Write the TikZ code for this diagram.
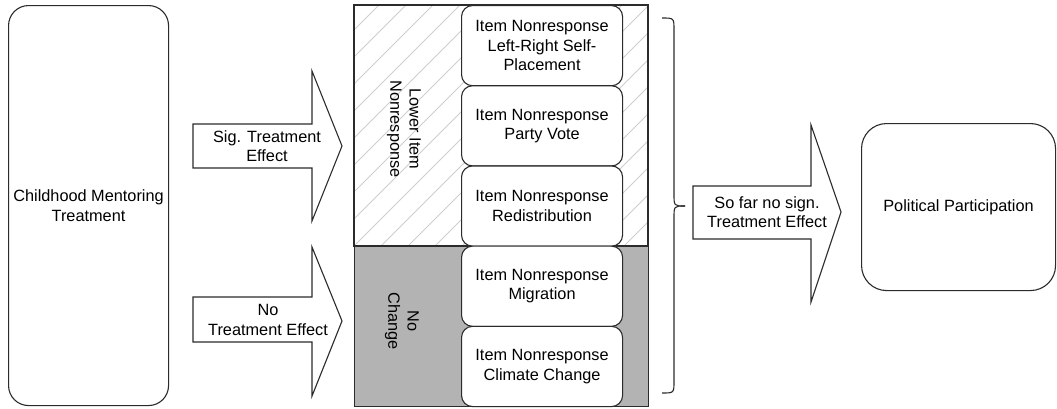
\documentclass[tikz,border=0pt]{standalone}
\usepackage{fontspec}
\setmainfont{Liberation Sans}
\definecolor{linec}{HTML}{2B2B2B}
\definecolor{hatchc}{HTML}{CFCFCF}
\definecolor{grayfill}{HTML}{B3B3B3}
\newcommand\dgfont{\fontsize{16.3}{19.3}\selectfont}
\begin{document}
\begin{tikzpicture}[x=1pt,y=-1pt,line width=1.1pt,
  box/.style={draw=linec, fill=white, rounded corners=20pt, inner sep=0pt, align=center, font=\dgfont, anchor=north west},
  itembox/.style={draw=linec, fill=white, rounded corners=11pt, inner sep=0pt, align=center, font=\dgfont,
    minimum width=161pt, minimum height=80.2pt, anchor=north west},
  region/.style={draw=linec, inner sep=0pt, anchor=north west, minimum width=294pt},
  blockarrow/.style={draw=linec, fill=white, line join=miter},
  txt/.style={align=center, font=\dgfont, inner sep=0pt},
  hatch/.style={draw=hatchc, line width=0.8pt}]
\useasboundingbox (0,0) rectangle (1057,408);

% left box
\node[box, minimum width=160pt, minimum height=400pt] (cmt) at (8,5) {Childhood Mentoring\\Treatment};

% block arrow 1
\draw[blockarrow] (193,124) -- (312,124) -- (312,71) -- (342,146) -- (312,221) -- (312,168) -- (193,168) -- cycle;
\node[txt] (sig) at (267,146) {Sig. Treatment\\Effect};

% block arrow 2
\draw[blockarrow] (193,297) -- (312,297) -- (312,247) -- (342,321) -- (312,396) -- (312,342) -- (193,342) -- cycle;
\node[txt] (noeff) at (268,320) {No\\Treatment Effect};

% middle panel
\node[region, fill=white, minimum height=241pt] (upper) at (354,5) {};
\begin{scope}
  \clip (354,5) rectangle (648,246);
  \foreach \i in {-10,...,12} {
    \draw[hatch] ({354+\i*27},246) -- ++(241,-241);
  }
\end{scope}
\draw[draw=linec] (354,5) rectangle (648,246);
\node[region, fill=grayfill, minimum height=160pt] (lower) at (354,246) {};

\node[txt, rotate=-90] (lowerlbl) at (404,129) {Lower Item\\Nonresponse};
\node[txt, rotate=-90] (nochg) at (402,321) {No\\Change};

% item boxes
\node[itembox] (i1) at (461,5) {Item Nonresponse\\Left-Right Self-\\Placement};
\node[itembox] (i2) at (461,85.2) {Item Nonresponse\\Party Vote};
\node[itembox] (i3) at (461,165.4) {Item Nonresponse\\Redistribution};
\node[itembox] (i4) at (461,245.6) {Item Nonresponse\\Migration};
\node[itembox] (i5) at (461,325.8) {Item Nonresponse\\Climate Change};

% brace
\coordinate (btop) at (662,18);
\coordinate (btip) at (685,206);
\coordinate (bbot) at (662,393);
\draw[draw=linec] (btop) .. controls (674,18) .. (674,30) -- (674,194) .. controls (674,206) .. (btip);
\draw[draw=linec] (btip) .. controls (674,206) .. (674,218) -- (674,381) .. controls (674,393) .. (bbot);

% block arrow 3
\draw[blockarrow] (693,186) -- (811,186) -- (811,125) -- (841,212) -- (811,302) -- (811,239) -- (693,239) -- cycle;
\node[txt] (sofar) at (767,212) {So far no sign.\\Treatment Effect};

% political participation
\node[box, rounded corners=25pt, minimum width=194pt, minimum height=167pt] (pp) at (861,123) {Political Participation};
\end{tikzpicture}
\end{document}
